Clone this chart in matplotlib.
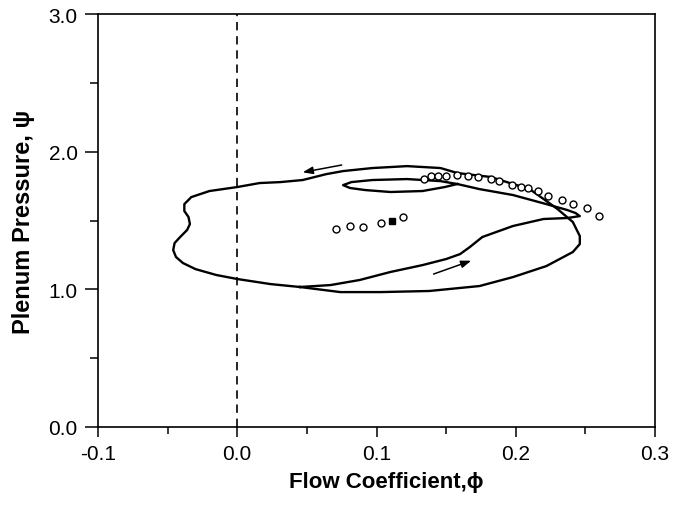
import matplotlib
matplotlib.use("Agg")
import matplotlib.pyplot as plt
from matplotlib.ticker import MultipleLocator, FormatStrFormatter

plt.rcParams['font.family'] = ['Liberation Sans', 'DejaVu Sans']

# Outer surge loop (phi, psi)
outer_phi = [0.045, 0.074, 0.103, 0.138, 0.174, 0.198, 0.222, 0.241, 0.246, 0.246,
             0.241, 0.230, 0.220, 0.210, 0.198, 0.182, 0.158, 0.146, 0.122, 0.097,
             0.076, 0.064, 0.047, 0.031, 0.016, 0.000, -0.020, -0.033, -0.038, -0.038,
             -0.035, -0.034, -0.036, -0.041, -0.045, -0.046, -0.044, -0.039, -0.030, -0.015,
             0.000, 0.024, 0.045]
outer_psi = [1.017, 0.980, 0.980, 0.988, 1.024, 1.089, 1.169, 1.271, 1.329, 1.387,
             1.489, 1.583, 1.656, 1.728, 1.765, 1.816, 1.845, 1.881, 1.895, 1.881,
             1.859, 1.837, 1.794, 1.779, 1.772, 1.743, 1.714, 1.670, 1.619, 1.569,
             1.525, 1.474, 1.431, 1.380, 1.336, 1.285, 1.235, 1.191, 1.147, 1.104,
             1.075, 1.038, 1.017]

# Inner branch with small loop (phi, psi)
inner_phi = [0.045, 0.067, 0.088, 0.110, 0.133, 0.150, 0.160, 0.167, 0.176, 0.198,
             0.220, 0.237, 0.246, 0.243, 0.237, 0.222, 0.198, 0.174, 0.158, 0.146,
             0.122, 0.097, 0.082, 0.076, 0.081, 0.092, 0.110, 0.133, 0.149, 0.158]
inner_psi = [1.017, 1.031, 1.068, 1.126, 1.176, 1.220, 1.256, 1.307, 1.380, 1.460,
             1.511, 1.518, 1.532, 1.554, 1.576, 1.619, 1.685, 1.728, 1.765, 1.786,
             1.801, 1.794, 1.779, 1.757, 1.736, 1.721, 1.707, 1.714, 1.743, 1.765]

# Open circle data points
pts_phi = [0.071, 0.081, 0.090, 0.103, 0.119,
           0.134, 0.139, 0.144, 0.150, 0.158, 0.166, 0.173, 0.182, 0.188, 0.197,
           0.204, 0.209, 0.216, 0.223, 0.233, 0.241, 0.251, 0.260]
pts_psi = [1.438, 1.458, 1.450, 1.479, 1.527,
           1.801, 1.821, 1.825, 1.825, 1.832, 1.821, 1.816, 1.801, 1.784, 1.757,
           1.741, 1.733, 1.716, 1.680, 1.649, 1.617, 1.588, 1.530]

# Filled square point
sq_phi = [0.111]
sq_psi = [1.498]

# Direction arrows: (tail, head)
arrow_top = [(0.075, 1.903), (0.047, 1.850)]
arrow_bot = [(0.141, 1.111), (0.168, 1.208)]

fig = plt.figure(figsize=(6.8, 5.06), dpi=100)
ax = fig.add_axes([98/680, 78/506, 557/680, 413/506])

ax.axvline(0.0, color='black', lw=1.2, ls=(0, (5, 3.5)), zorder=1)
ax.plot(outer_phi, outer_psi, color='black', lw=1.7, solid_joinstyle='round', zorder=2)
ax.plot(inner_phi, inner_psi, color='black', lw=1.7, solid_joinstyle='round', zorder=2)
ax.plot(pts_phi, pts_psi, ls='none', marker='o', ms=5, mfc='white', mec='black', mew=1.0, zorder=3)
ax.plot(sq_phi, sq_psi, ls='none', marker='s', ms=4.5, color='black', zorder=3)

for tail, head in (arrow_top, arrow_bot):
    ax.annotate('', xy=head, xytext=tail,
                arrowprops=dict(arrowstyle='-|>,head_length=0.6,head_width=0.22',
                                color='black', lw=1.1, shrinkA=0, shrinkB=0))

ax.set_xlim(-0.1, 0.3)
ax.set_ylim(0.0, 3.0)
ax.xaxis.set_major_locator(MultipleLocator(0.1))
ax.xaxis.set_minor_locator(MultipleLocator(0.05))
ax.yaxis.set_major_locator(MultipleLocator(1.0))
ax.yaxis.set_minor_locator(MultipleLocator(0.5))
ax.xaxis.set_major_formatter(FormatStrFormatter('%.1f'))
ax.yaxis.set_major_formatter(FormatStrFormatter('%.1f'))
ax.tick_params(axis='x', which='major', direction='out', length=7.5, width=1.1, labelsize=15, pad=5)
ax.tick_params(axis='x', which='minor', direction='out', length=5, width=1.1)
ax.tick_params(axis='y', which='major', direction='out', length=9.5, width=1.1, labelsize=15, pad=5)
ax.tick_params(axis='y', which='minor', direction='out', length=6, width=1.1)
for s in ax.spines.values():
    s.set_linewidth(1.2)

ax.set_xlabel('Flow Coefficient,ϕ', fontsize=16, fontweight='bold')
ax.xaxis.set_label_coords(0.517, -0.1065)
ax.xaxis.label.set_verticalalignment('top')
ax.set_ylabel('Plenum Pressure, ψ', fontsize=17, fontweight='bold')
ax.yaxis.set_label_coords(-0.113, 0.5)

fig.savefig('out.png', dpi=100)
